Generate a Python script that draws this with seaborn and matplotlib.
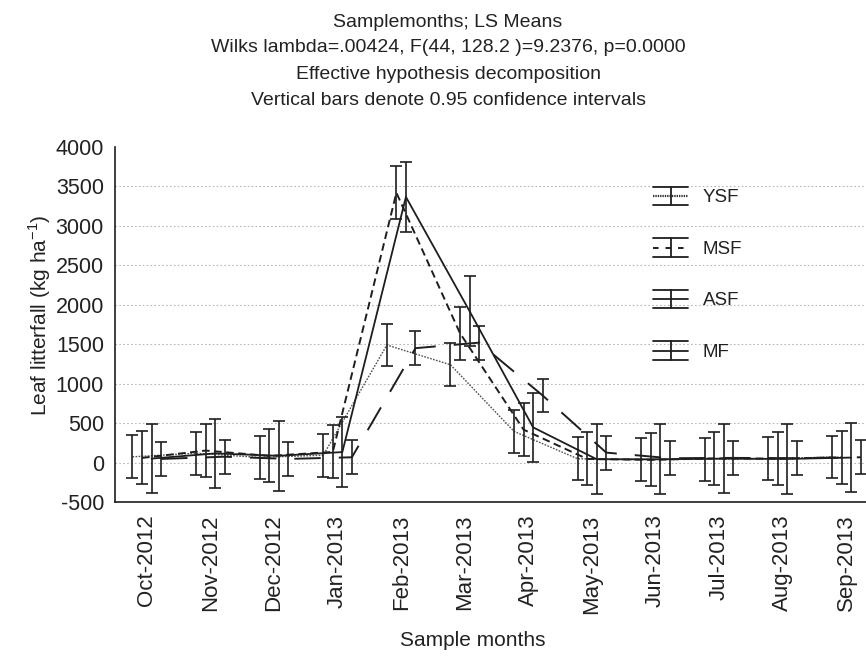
import matplotlib
matplotlib.use("Agg")
import matplotlib.pyplot as plt
import seaborn as sns
import numpy as np
import pandas as pd
from matplotlib.lines import Line2D
from matplotlib.legend_handler import HandlerBase

# ---------------- data ----------------
months = ['Oct-2012', 'Nov-2012', 'Dec-2012', 'Jan-2013', 'Feb-2013', 'Mar-2013',
          'Apr-2013', 'May-2013', 'Jun-2013', 'Jul-2013', 'Aug-2013', 'Sep-2013']
series_names = ['YSF', 'MSF', 'ASF', 'MF']
ysf = [73, 118, 65, 93, 1490, 1240, 395, 48, 36, 44, 48, 70]
msf = [59, 152, 84, 135, 3420, 1640, 417, 46, 34, 53, 50, 65]
asf = [50, 116, 86, 133, 3367, 1920, 446, 42, 42, 50, 46, 63]
mf = [46, 74, 46, 67, 1450, 1520, 850, 126, 55, 59, 55, 67]
ci_half = [272, 336, 442, 215]   # 0.95 CI half widths (YSF, MSF, ASF, MF)
yticks = [-500, 0, 500, 1000, 1500, 2000, 2500, 3000, 3500, 4000]

title_lines = ["Samplemonths; LS Means",
               "Wilks lambda=.00424, F(44, 128.2 )=9.2376, p=0.0000",
               "Effective hypothesis decomposition",
               "Vertical bars denote 0.95 confidence intervals"]

# ---------------- style ----------------
sns.set_style("white")
plt.rcParams['font.family'] = ['Liberation Sans', 'DejaVu Sans']
plt.rcParams['lines.scale_dashes'] = False

W, H = 866, 659
fig = plt.figure(figsize=(W / 100, H / 100), dpi=100)
ax_l, ax_r, ax_t, ax_b = 115, 866, 147, 502
ax = fig.add_axes([ax_l / W, 1 - ax_b / H, (ax_r - ax_l) / W, (ax_b - ax_t) / H])

ink = '#1e1e1e'
styles = {
    'YSF': dict(color='#505050', lw=1.0, ls=(0, (1.2, 1.0))),
    'MSF': dict(color=ink, lw=1.4, ls=(0, (5.5, 3.2))),
    'ASF': dict(color=ink, lw=1.3, ls='-'),
    'MF':  dict(color=ink, lw=1.4, ls=(0, (19, 13))),
}
offsets = [-0.225, -0.075, 0.075, 0.225]
vals_all = [ysf, msf, asf, mf]

base = np.arange(len(months))
for name, vals, off, ci in zip(series_names, vals_all, offsets, ci_half):
    xpos = base + off
    st = styles[name]
    df = pd.DataFrame({'x': xpos, 'y': vals})
    sns.lineplot(data=df, x='x', y='y', ax=ax, color=st['color'], lw=st['lw'],
                 linestyle=st['ls'], legend=False)
    ax.errorbar(xpos, vals, yerr=ci, fmt='none', ecolor=ink, elinewidth=1.2,
                capsize=4, capthick=1.2, zorder=3)

ax.set_xlim(-0.5, (866 - 146.7) / 63.6)
ax.set_ylim(-500, 4000)
ax.set_yticks(yticks)
ax.set_yticklabels([str(v) for v in yticks], fontsize=15.5)
ax.set_xticks(base)
ax.set_xticklabels(months, rotation=90, fontsize=16)
ax.tick_params(axis='y', direction='in', length=3, width=1.1, color=ink, pad=8, labelcolor='#222')
ax.tick_params(axis='x', direction='in', length=4, width=1.1, color=ink, pad=9, labelcolor='#222')

ax.yaxis.grid(True, color='#b8b8b8', lw=0.8, ls=(0, (1.2, 1.6)))
ax.xaxis.grid(False)
ax.set_axisbelow(True)
for gl, v in zip(ax.get_ygridlines(), yticks):
    if v in (4000, -500):
        gl.set_visible(False)

for s in ['top', 'right']:
    ax.spines[s].set_visible(False)
for s in ['left', 'bottom']:
    ax.spines[s].set_color(ink)
    ax.spines[s].set_linewidth(1.2)

ax.set_xlabel('')
ax.set_ylabel('')
fig.text(473 / W, 1 - 640 / H, 'Sample months', ha='center', va='center', fontsize=15, color='#222')
fig.text(40 / W, 1 - 315 / H, 'Leaf litterfall (kg ha$^{\\mathregular{-1}}$)', ha='center', va='center',
         rotation=90, fontsize=15, color='#222')

baselines = [26.7, 52.5, 79, 105]
for line, b in zip(title_lines, baselines):
    fig.text(448 / W, 1 - b / H, line, ha='center', va='baseline', fontsize=14, color='#222')


# ---------------- legend ----------------
class EBHandler(HandlerBase):
    def create_artists(self, legend, orig_handle, xdescent, ydescent, width, height,
                       fontsize, trans):
        x0, x1 = -xdescent, -xdescent + width
        y0, y1 = -ydescent, -ydescent + height
        ym, xm = (y0 + y1) / 2, (x0 + x1) / 2
        mid = Line2D([x0, x1], [ym, ym])
        mid.update_from(orig_handle)
        arts = [mid,
                Line2D([x0, x1], [y0, y0], color=ink, lw=1.3),
                Line2D([x0, x1], [y1, y1], color=ink, lw=1.3),
                Line2D([xm, xm], [y0, y1], color=ink, lw=1.3)]
        for a in arts:
            a.set_transform(trans)
        return arts


handle_styles = {
    'YSF': dict(color='#333333', lw=1.6, ls=(0, (1.0, 0.7))),
    'MSF': dict(color=ink, lw=1.4, ls=(0, (4, 5))),
    'ASF': dict(color=ink, lw=1.3, ls='-'),
    'MF':  dict(color=ink, lw=1.3, ls='-'),
}
handles = [Line2D([], [], color=handle_styles[n]['color'], lw=handle_styles[n]['lw'],
                  linestyle=handle_styles[n]['ls']) for n in series_names]

fs_leg = 13.5
em = fs_leg * 100 / 72
leg = fig.legend(handles, series_names, loc='upper left',
                 bbox_to_anchor=(653 / W, 1 - 187 / H), bbox_transform=fig.transFigure,
                 frameon=False, fontsize=fs_leg, borderpad=0, borderaxespad=0,
                 handlelength=35 / em, handleheight=21 / em, handletextpad=15 / em,
                 labelspacing=32 / em, handler_map={Line2D: EBHandler()})
for t in leg.get_texts():
    t.set_color('#222')

fig.savefig('out.png', dpi=100)
